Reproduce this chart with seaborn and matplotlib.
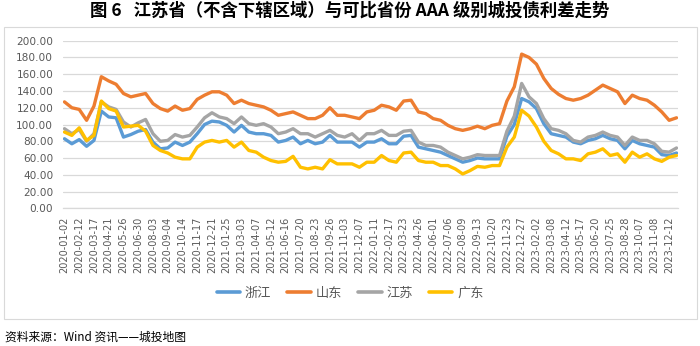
import numpy as np
import pandas as pd
import matplotlib
matplotlib.use("Agg")
import matplotlib.pyplot as plt
from matplotlib.patches import Rectangle
from matplotlib.lines import Line2D
import seaborn as sns

# Category labels shown on the x axis (one every ~24 trading days)
tick_labels = [
    "2020-01-02", "2020-02-12", "2020-03-17", "2020-04-21", "2020-05-26", "2020-06-30",
    "2020-08-03", "2020-09-04", "2020-10-14", "2020-11-17", "2020-12-21", "2021-01-25",
    "2021-03-03", "2021-04-07", "2021-05-12", "2021-06-16", "2021-07-20", "2021-08-23",
    "2021-09-26", "2021-11-03", "2021-12-07", "2022-01-11", "2022-02-17", "2022-03-23",
    "2022-04-26", "2022-06-01", "2022-07-06", "2022-08-09", "2022-09-13", "2022-10-20",
    "2022-11-23", "2022-12-27", "2023-02-02", "2023-03-08", "2023-04-12", "2023-05-17",
    "2023-06-20", "2023-07-25", "2023-08-28", "2023-10-07", "2023-11-08", "2023-12-12",
]

# AAA urban-investment bond spreads (bp), sampled twice per label interval
zhejiang = [
    83, 77, 82, 74, 81, 116, 109, 108, 85, 88, 92, 94, 79, 71, 72, 79, 75, 79, 89, 100,
    104, 103, 99, 91, 99, 91, 89, 89, 87, 79, 81, 85, 77, 81, 77, 79, 87, 79, 79, 79,
    73, 79, 79, 83, 77, 77, 86, 87, 73, 71, 69, 67, 63, 59, 55, 57, 60, 59, 59, 59,
    86, 100, 131, 127, 119, 101, 89, 87, 85, 79, 77, 81, 83, 87, 83, 81, 71, 81, 77, 75,
    73, 64, 63, 66,
]
shandong = [
    127, 120, 118, 105, 122, 157, 152, 148, 137, 133, 135, 137, 125, 119, 116, 122, 117, 119, 130, 135,
    139, 139, 135, 125, 129, 125, 123, 121, 117, 111, 113, 115, 111, 107, 107, 111, 120, 111, 111, 109,
    107, 115, 117, 123, 121, 117, 128, 129, 115, 113, 107, 105, 99, 95, 93, 95, 98, 95, 99, 101,
    128, 145, 184, 180, 172, 155, 143, 136, 131, 129, 131, 135, 141, 147, 143, 139, 125, 135, 131, 129,
    123, 115, 105, 108,
]
jiangsu = [
    95, 89, 94, 80, 89, 127, 121, 118, 103, 97, 102, 106, 89, 80, 81, 88, 85, 87, 97, 108,
    114, 109, 107, 101, 109, 101, 99, 101, 97, 89, 91, 95, 89, 89, 85, 89, 93, 87, 85, 89,
    81, 89, 89, 93, 87, 87, 92, 93, 79, 75, 75, 73, 67, 63, 59, 61, 64, 63, 63, 63,
    92, 110, 149, 133, 125, 107, 95, 93, 89, 81, 79, 85, 87, 91, 87, 85, 75, 85, 81, 81,
    77, 68, 67, 72,
]
guangdong = [
    91, 87, 96, 81, 87, 128, 119, 116, 97, 98, 99, 92, 75, 69, 66, 61, 59, 59, 73, 79,
    81, 79, 81, 73, 79, 69, 67, 61, 57, 55, 56, 62, 49, 47, 49, 47, 58, 53, 53, 53,
    49, 55, 55, 63, 57, 55, 66, 67, 57, 55, 55, 51, 51, 47, 41, 45, 50, 49, 51, 51,
    73, 85, 117, 110, 97, 80, 69, 65, 59, 59, 57, 65, 67, 71, 63, 65, 55, 67, 61, 65,
    59, 56, 61, 63,
]

provinces = ["浙江", "山东", "江苏", "广东"]
line_colors = ["#5B9BD5", "#ED7D31", "#A5A5A5", "#FFC000"]

# Long-format table; position is measured in label intervals
frames = []
for name, values in zip(provinces, [zhejiang, shandong, jiangsu, guangdong]):
    frames.append(pd.DataFrame({
        "pos": np.arange(len(values)) * 0.5,
        "spread": values,
        "province": name,
    }))
df = pd.concat(frames, ignore_index=True)

sns.set_style("white")
plt.rcParams["font.family"] = ["Noto Sans CJK SC", "DejaVu Sans"]

W, H = 700, 346
fig = plt.figure(figsize=(W / 100, H / 100), dpi=100)
fig.patch.set_facecolor("white")

# light frame around the chart body
fig.add_artist(Rectangle((4 / W, 1 - 319 / H), 693 / W, 292 / H,
                         transform=fig.transFigure, fill=False,
                         edgecolor="#D9D9D9", linewidth=0.8))

ax = fig.add_axes([63 / W, 1 - 208.3 / H, 615 / W, 167.6 / H])
sns.lineplot(data=df, x="pos", y="spread", hue="province", hue_order=provinces,
             palette=dict(zip(provinces, line_colors)), linewidth=2.4,
             legend=False, ax=ax)

ax.set_ylim(0, 200)
ax.set_yticks(np.arange(0, 201, 20))
ax.set_yticklabels([f"{v:.2f}" for v in np.arange(0, 201, 20)],
                   fontsize=7.6, color="#595959", family="DejaVu Sans")
ax.set_xlim(-0.1, 41.6)
ax.set_xticks(np.arange(len(tick_labels)))
ax.set_xticklabels(tick_labels, rotation=90, fontsize=7, color="#595959",
                   family="DejaVu Sans")
ax.tick_params(axis="y", length=0, pad=7)
ax.tick_params(axis="x", length=0, pad=6)
ax.set_xlabel("")
ax.set_ylabel("")
ax.grid(axis="y", color="#D9D9D9", linewidth=0.9)
ax.grid(axis="x", visible=False)
for side in ["top", "right", "left"]:
    ax.spines[side].set_visible(False)
ax.spines["bottom"].set_color("#D9D9D9")
ax.spines["bottom"].set_linewidth(0.9)

handles = [Line2D([0], [0], color=c, linewidth=2.6) for c in line_colors]
fig.legend(handles, provinces, loc="center", bbox_to_anchor=(0.5, 1 - 293 / H),
           ncol=4, frameon=False, fontsize=9.5, handlelength=1.8,
           handletextpad=0.35, columnspacing=1.2, labelcolor="#595959")

fig.text(0.5, 1 - 11 / H,
         "图 6   江苏省（不含下辖区域）与可比省份 AAA 级别城投债利差走势",
         ha="center", va="center", fontsize=12.5, fontweight="bold", color="black")
fig.text(5 / W, 1 - 337 / H, "资料来源：Wind 资讯——城投地图",
         ha="left", va="center", fontsize=8.5, color="black")

fig.savefig("out.png", dpi=100, facecolor="white")
